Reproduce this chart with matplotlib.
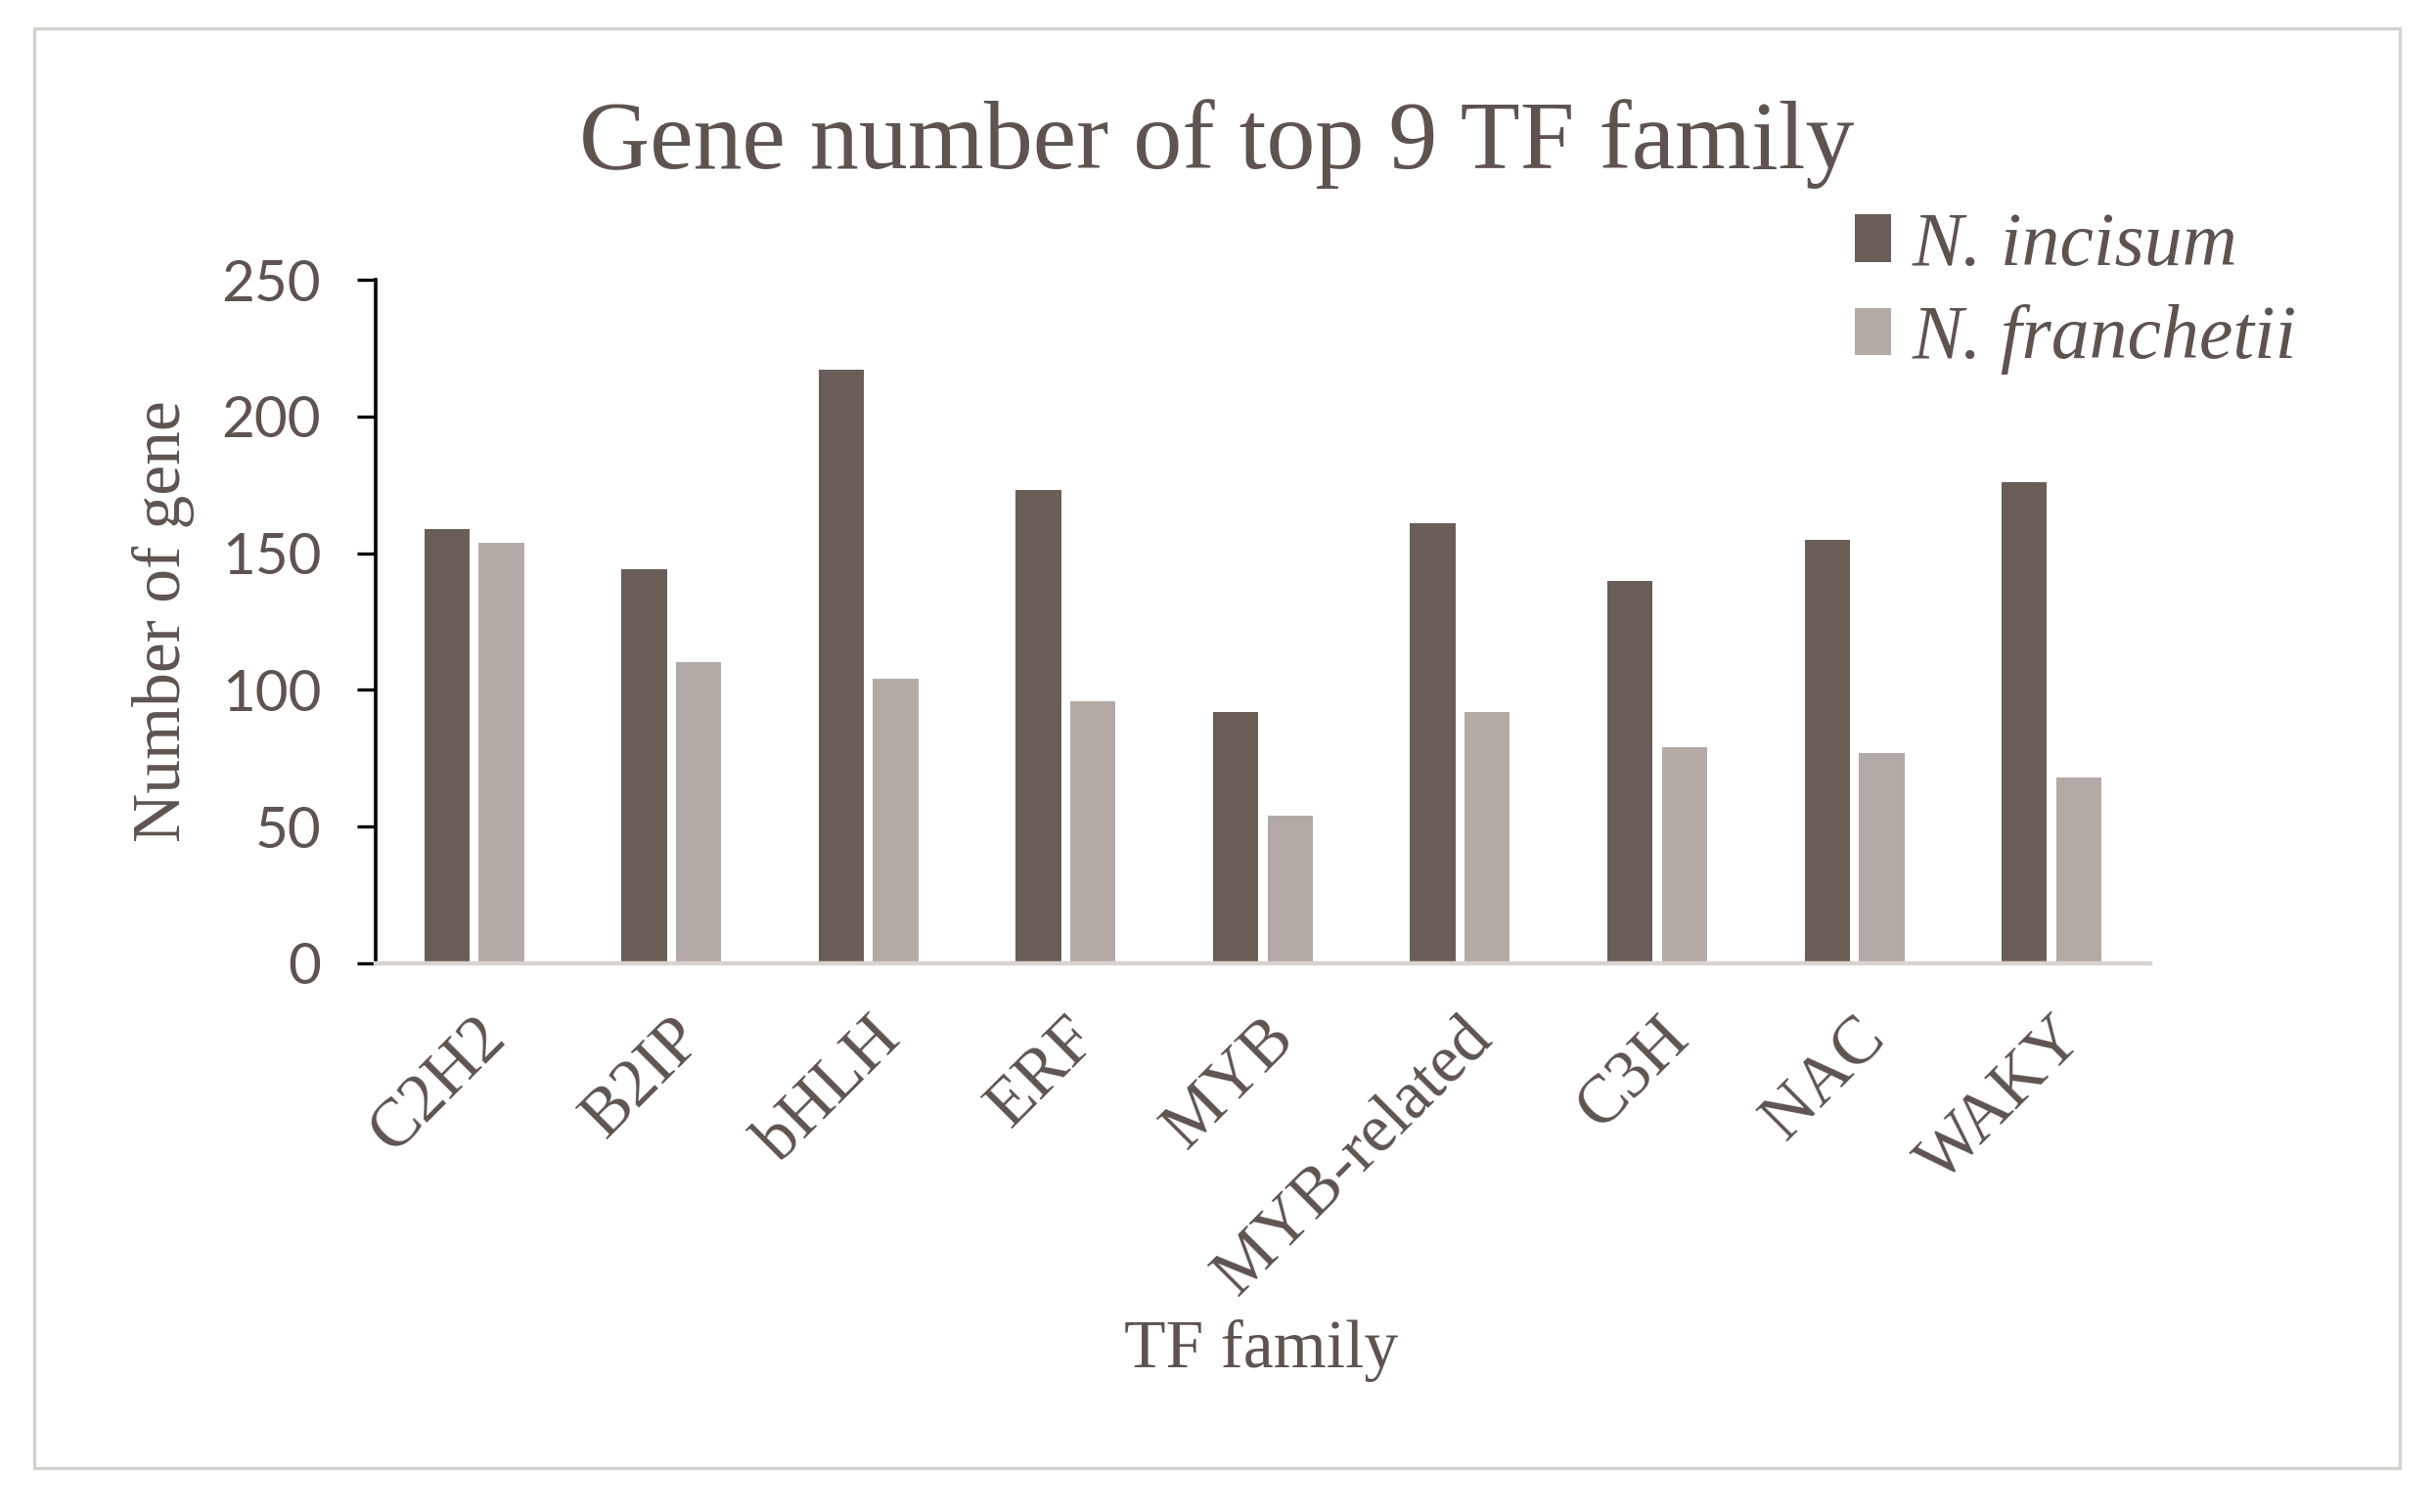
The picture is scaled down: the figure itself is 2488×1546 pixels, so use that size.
import matplotlib
matplotlib.use("Agg")
import matplotlib.pyplot as plt
from matplotlib.patches import Rectangle
import numpy as np

families = ["C2H2", "B2IP", "bHLH", "ERF", "MYB", "MYB-related", "C3H", "NAC", "WAKY"]
incisum = [159, 144, 217, 173, 92, 161, 140, 155, 176]
franchetii = [154, 110, 104, 96, 54, 92, 79, 77, 68]
series_names = ["N. incisum", "N. franchetii"]
yticks = [0, 50, 100, 150, 200, 250]

dark = "#6a5d57"
light = "#b4aaa5"
text_col = "#5e534f"
serif = "Liberation Serif"

fig = plt.figure(figsize=(12.44, 7.73), dpi=200)
fig.patch.set_facecolor("white")

# outer frame
fig.patches.append(Rectangle((35 / 2488, 1 - 1501 / 1546), (2453 - 35) / 2488, (1501 - 29) / 1546,
                             transform=fig.transFigure, fill=False, edgecolor="#d6d1cd", lw=1.2))

ax = fig.add_axes([0.1543, 0.3629, 0.8834 - 0.1543, 0.452])
x = np.arange(len(families))
w = 0.23
ax.bar(x - 0.138, incisum, width=w, color=dark, label=series_names[0], zorder=2)
ax.bar(x + 0.138, franchetii, width=w, color=light, label=series_names[1], zorder=2)

ax.set_xlim(-0.5, len(families) - 0.5)
ax.set_ylim(0, 250)
ax.set_yticks(yticks)
ax.set_yticklabels([str(v) for v in yticks], family="Lato", fontsize=21, color=text_col)
ax.tick_params(axis="y", length=7, width=1.2, color="black", pad=13, direction="out")
ax.set_xticks(x)
ax.set_xticklabels(families, family=serif, fontsize=25, color=text_col, rotation=45,
                   ha="right", rotation_mode="anchor")
ax.tick_params(axis="x", length=0, pad=16)

for s in ["top", "right"]:
    ax.spines[s].set_visible(False)
ax.spines["left"].set_color("black")
ax.spines["left"].set_linewidth(1.3)
ax.spines["bottom"].set_color("#d9d3cf")
ax.spines["bottom"].set_linewidth(1.6)
ax.spines["bottom"].set_zorder(3)

fig.text(0.5, 0.905, "Gene number of top 9 TF family", family=serif, fontsize=36,
         color=text_col, ha="center", va="center")
fig.text(0.067, 0.589, "Number of gene", family=serif, fontsize=25, color=text_col,
         rotation=90, ha="center", va="center")
fig.text(0.518, 0.107, "TF family", family=serif, fontsize=25, color=text_col,
         ha="center", va="center")

leg = ax.legend(loc="upper left", bbox_to_anchor=(0.762, 0.86), bbox_transform=fig.transFigure,
                frameon=False, handlelength=0.48, handleheight=0.58, handletextpad=0.28,
                borderpad=0, borderaxespad=0, labelspacing=0.3,
                prop={"family": serif, "style": "italic", "size": 28})
for t in leg.get_texts():
    t.set_color(text_col)

fig.savefig("out.png", dpi=200, facecolor="white")
